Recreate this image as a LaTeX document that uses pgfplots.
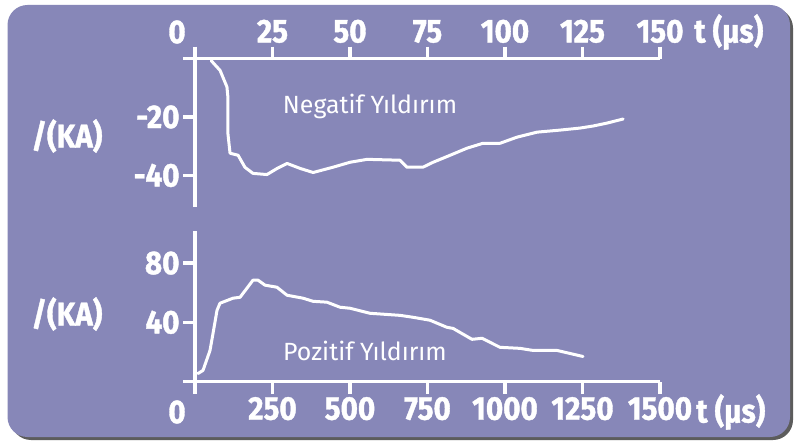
\documentclass[border=0pt]{standalone}
\usepackage{fontspec}
\setmainfont{Fira Sans}
\newfontfamily\heavy{Fira Sans}[FakeStretch=0.9, BoldFeatures={FakeBold=1.2}]
\usepackage{pgfplots}
\pgfplotsset{compat=1.18}
\definecolor{bg}{HTML}{8787B8}
\definecolor{shadowc}{HTML}{5C5C5C}

\pgfplotsset{
 myax/.style={
  scale only axis, width=465bp, clip=false,
  axis line style={white, line width=3.5bp},
  every tick/.style={white, line width=3.5bp},
  major tick length=12bp,
  tick align=outside,
  tick label style={white, font=\fontsize{33}{36}\heavy\bfseries},
  /pgf/number format/assume math mode=true,
  /pgf/number format/1000 sep={},
 },
 curve/.style={white, line width=3bp, line join=round, line cap=round, no markers},
}

\begin{document}
\begin{tikzpicture}[x=1bp,y=1bp]
\fill[white] (0,0) rectangle (796,-442);
\fill[shadowc, rounded corners=20bp] (11,-8) rectangle (793,-440);
\fill[bg, rounded corners=20bp] (7.5,-5) rectangle (790,-437);

\begin{axis}[myax, at={(195bp,-206.7bp)}, anchor=south west, height=148.2bp,
 xmin=0, xmax=150, ymin=-50.7, ymax=0,
 axis x line*=top, axis y line*=left,
 xtick={0,25,...,150}, xticklabels={{},25,50,75,100,125,150},
 ytick={-40,-20,0}, yticklabels={-40,-20,{}},
 ]
\addplot[curve] coordinates {
(5.2,-0.7) (8.1,-4.1) (10.3,-9.7) (10.6,-13.1) (10.6,-25.5) (11.3,-32.4)
(13.9,-33.1) (16.1,-37.2) (18.7,-39.3) (23.2,-39.7) (26.5,-37.6) (29.7,-35.9)
(33.9,-37.6) (38.1,-39.0) (44.5,-37.2) (50.0,-35.5) (55.5,-34.5) (66.1,-34.8)
(68.4,-37.2) (73.5,-37.2) (76.8,-35.5) (82.3,-33.1) (87.7,-30.7) (92.9,-29.0)
(98.4,-29.0) (103.9,-26.9) (110.3,-25.2) (117.7,-24.5) (124.2,-23.8)
(128.4,-23.1) (132.9,-22.1) (138.1,-20.7)
};
\end{axis}

\begin{axis}[myax, at={(195bp,-381.5bp)}, anchor=south west, height=150.5bp,
 xmin=0, xmax=1500, ymin=0, ymax=101.7,
 axis x line*=bottom, axis y line*=left,
 xtick={0,250,...,1500}, xticklabels={{},250,500,750,1000,1250,1500},
 ytick={0,40,80}, yticklabels={{},40,80},
 ]
\addplot[curve] coordinates {
(9.7,5.4) (25.8,7.5) (48.4,21.0) (58.1,32.5) (71.0,48.1) (80.6,52.9)
(122.6,56.3) (145.2,56.9) (167.7,63.1) (187.1,68.5) (203.2,68.5) (225.8,65.1)
(264.5,63.7) (296.8,58.3) (348.4,56.3) (380.6,54.2) (425.8,53.6) (467.7,50.2)
(500.0,49.5) (564.5,46.1) (661.3,44.7) (703.2,43.4) (758.1,41.4) (812.9,36.6)
(832.3,35.9) (893.5,28.5) (925.8,29.2) (983.9,23.1) (1048.4,22.4)
(1090.3,21.0) (1167.7,21.0) (1251.6,16.9)
};
\end{axis}

\begin{scope}[every node/.style={white, font=\fontsize{33}{36}\heavy\bfseries, inner sep=0pt}]
\node at (177,-32) {0};
\node at (177,-412) {0};
\node at (67,-136) {/(KA)};
\node at (67,-314) {/(KA)};
\node[anchor=west] at (694,-32) {t (µs)};
\node[anchor=west] at (696,-412) {t (µs)};
\end{scope}
\node[white, font=\fontsize{25}{28}\selectfont, inner sep=0pt] at (370,-106) {Negatif Yıldırım};
\node[white, font=\fontsize{25}{28}\selectfont, inner sep=0pt] at (365,-351) {Pozitif Yıldırım};
\end{tikzpicture}
\end{document}
